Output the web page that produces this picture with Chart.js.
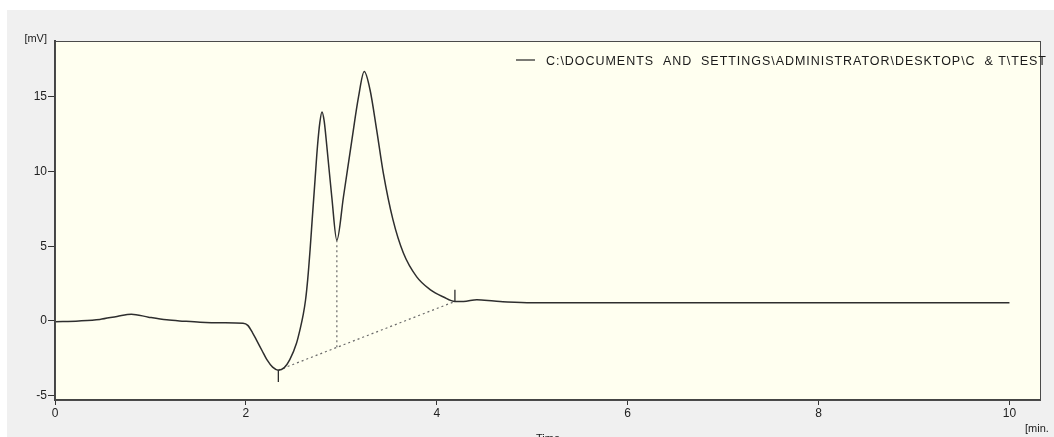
<!DOCTYPE html>
<html>
<head>
<meta charset="utf-8">
<script src="https://cdn.jsdelivr.net/npm/chart.js@4.4.1/dist/chart.umd.min.js"></script>
<style>
  html, body { margin: 0; padding: 0; background: #ffffff; }
  #wrap { width: 1054px; height: 437px; }
</style>
</head>
<body>
<div id="wrap"><canvas id="chrom" width="1054" height="437"></canvas></div>
<script>
// signal trace, time in minutes and signal in mV
var times = [0, 0.25, 0.47, 0.65, 0.8, 0.98, 1.17, 1.35, 1.52, 1.75, 1.97, 2.02, 2.07, 2.11, 2.17, 2.22, 2.28, 2.34, 2.40, 2.46, 2.53, 2.57, 2.60, 2.625, 2.648, 2.673, 2.697, 2.725, 2.75, 2.775, 2.797, 2.82, 2.848, 2.90, 2.953, 3.022, 3.11, 3.18, 3.24, 3.30, 3.37, 3.44, 3.54, 3.65, 3.79, 3.93, 4.07, 4.19, 4.28, 4.42, 4.6, 4.74, 5.0, 7.0, 10.0];
var signal = [-0.05, 0.0, 0.1, 0.3, 0.45, 0.25, 0.07, -0.02, -0.09, -0.13, -0.16, -0.3, -0.8, -1.27, -2.0, -2.6, -3.1, -3.3, -3.15, -2.6, -1.5, -0.5, 0.4, 1.4, 2.8, 4.8, 7.0, 9.5, 11.7, 13.3, 14.0, 13.4, 11.7, 8.3, 5.4, 8.3, 12.1, 15.0, 16.7, 15.5, 12.8, 9.9, 6.8, 4.55, 2.95, 2.1, 1.6, 1.3, 1.3, 1.42, 1.33, 1.27, 1.22, 1.22, 1.22];

// integration baseline and peak markers
var baseT = [2.34, 4.19];
var baseV = [-3.3, 1.3];
var dropT = [2.953, 2.953];
var dropV = [5.4, -1.77];
var startMarkT = [2.34, 2.34];
var startMarkV = [-3.3, -4.1];
var endMarkT = [4.19, 4.19];
var endMarkV = [1.3, 2.08];

var xTicks = [0, 2, 4, 6, 8, 10];
var yTicks = [-5, 0, 5, 10, 15];

var legendText = 'C:\\DOCUMENTS  AND  SETTINGS\\ADMINISTRATOR\\DESKTOP\\C  & T\\TEST';

function toPoints(xs, ys) {
    var pts = [];
    for (var i = 0; i < xs.length; i++) {
        pts.push({x: xs[i], y: ys[i]});
    }
    return pts;
}

var FONT = "'Liberation Sans', Arial, sans-serif";

var framePlugin = {
    id: 'frame',
    beforeDraw: function(chart) {
        var ctx = chart.ctx, a = chart.chartArea;
        ctx.save();
        ctx.fillStyle = '#f0f0f0';
        ctx.fillRect(7, 10, chart.width - 7, chart.height - 10);
        ctx.fillStyle = '#fffff0';
        ctx.fillRect(a.left, a.top, a.right - a.left, a.bottom - a.top);
        ctx.restore();
    },
    afterDraw: function(chart) {
        var ctx = chart.ctx, a = chart.chartArea;
        ctx.save();
        ctx.strokeStyle = '#4a4a4a';
        ctx.lineWidth = 1;
        ctx.strokeRect(a.left + 0.5, a.top + 0.5, a.right - a.left, a.bottom - a.top);

        // legend inside the plot
        ctx.strokeStyle = '#222';
        ctx.lineWidth = 1.2;
        ctx.beginPath();
        ctx.moveTo(516, 60);
        ctx.lineTo(535, 60);
        ctx.stroke();
        ctx.fillStyle = '#1a1a1a';
        ctx.font = '12.5px ' + FONT;
        ctx.textBaseline = 'alphabetic';
        ctx.textAlign = 'left';
        var w = ctx.measureText(legendText).width;
        var sp = (500 - w) / (legendText.length - 1);
        ctx.letterSpacing = sp.toFixed(2) + 'px';
        ctx.fillText(legendText, 546, 65);
        ctx.letterSpacing = '0px';

        // axis units
        ctx.font = '11px ' + FONT;
        ctx.textAlign = 'right';
        ctx.fillText('[mV]', 47, 42);
        ctx.textAlign = 'left';
        ctx.fillText('[min.', 1025, 432);
        ctx.textAlign = 'center';
        ctx.fillText('Time', 548, 442);
        ctx.restore();
    }
};

var ctx = document.getElementById('chrom').getContext('2d');
var chart = new Chart(ctx, {
    type: 'line',
    data: {
        datasets: [
            {
                data: toPoints(times, signal),
                borderColor: '#2e2e2e',
                borderWidth: 1.5,
                pointRadius: 0,
                cubicInterpolationMode: 'monotone',
                fill: false
            },
            {
                data: toPoints(baseT, baseV),
                borderColor: '#6a6a6a',
                borderWidth: 1.2,
                borderDash: [2, 3],
                pointRadius: 0
            },
            {
                data: toPoints(dropT, dropV),
                borderColor: '#6a6a6a',
                borderWidth: 1.2,
                borderDash: [2, 3],
                pointRadius: 0
            },
            {
                data: toPoints(startMarkT, startMarkV),
                borderColor: '#2e2e2e',
                borderWidth: 1.3,
                pointRadius: 0
            },
            {
                data: toPoints(endMarkT, endMarkV),
                borderColor: '#2e2e2e',
                borderWidth: 1.3,
                pointRadius: 0
            }
        ]
    },
    options: {
        responsive: false,
        animation: false,
        parsing: false,
        layout: { padding: { top: 41, right: 14, left: 0, bottom: 0 } },
        plugins: {
            legend: { display: false },
            tooltip: { enabled: false }
        },
        scales: {
            x: {
                type: 'linear',
                min: 0,
                max: 10.32,
                afterBuildTicks: function(s) { s.ticks = xTicks.map(function(v) { return {value: v}; }); },
                afterFit: function(s) { s.height = 37; },
                grid: { drawOnChartArea: false, drawTicks: true, tickLength: 5, color: '#333' },
                border: { display: true, color: '#444', width: 2 },
                ticks: { color: '#222', font: { family: FONT, size: 12 }, padding: 1, maxRotation: 0 }
            },
            y: {
                type: 'linear',
                min: -5.3,
                max: 18.75,
                afterBuildTicks: function(s) { s.ticks = yTicks.map(function(v) { return {value: v}; }); },
                afterFit: function(s) { s.width = 55; },
                grid: { drawOnChartArea: false, drawTicks: true, tickLength: 7, color: '#333' },
                border: { display: true, color: '#444', width: 2 },
                ticks: { color: '#222', font: { family: FONT, size: 12 }, padding: 1 }
            }
        }
    },
    plugins: [framePlugin]
});
</script>
</body>
</html>
